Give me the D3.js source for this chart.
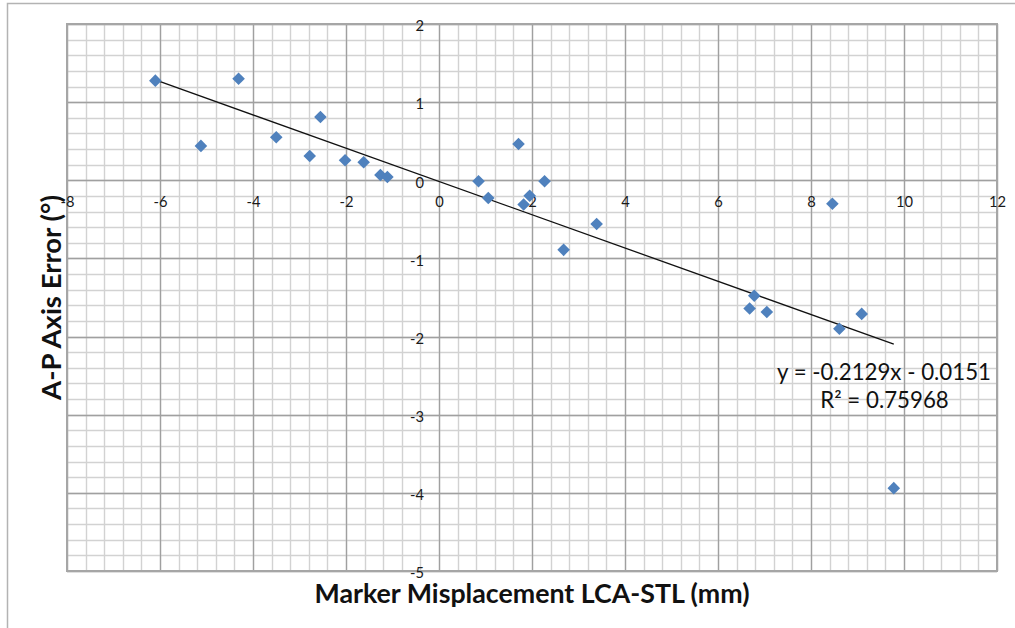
<!DOCTYPE html>
<html>
<head>
<meta charset="utf-8">
<script src="https://cdn.jsdelivr.net/npm/d3@7"></script>
<style>
  html, body { margin: 0; padding: 0; background: #fff; }
  svg { display: block; }
  text { font-family: Lato, "Open Sans", sans-serif; }
</style>
</head>
<body>
<svg id="chart" width="1015" height="628"></svg>
<script>
// ---- data ----
const xValues = [-6.10, -5.12, -4.31, -3.50, -2.78, -2.55, -2.02, -1.62, -1.26, -1.11,
                 0.85, 1.06, 1.71, 1.82, 1.95, 2.27, 2.68, 3.39,
                 6.68, 6.78, 7.05, 8.46, 8.61, 9.09, 9.78];
const yValues = [1.275, 0.44, 1.30, 0.55, 0.31, 0.81, 0.256, 0.23, 0.068, 0.042,
                 -0.013, -0.227, 0.465, -0.31, -0.197, -0.013, -0.89, -0.56,
                 -1.64, -1.477, -1.685, -0.30, -1.90, -1.71, -3.94];
const trendSlope = [-0.2129];
const trendIntercept = [-0.0151];
const xTicks = [-8, -6, -4, -2, 0, 2, 4, 6, 8, 10, 12];
const yTicks = [-5, -4, -3, -2, -1, 0, 1, 2];
const xTitle = "Marker Misplacement LCA-STL (mm)";
const yTitle = "A-P Axis Error (°)";
const eqText = "y = -0.2129x - 0.0151";
const r2Text = "R² = 0.75968";

// ---- layout ----
const svg = d3.select("#chart");
const plot = { left: 67, top: 24, right: 997, bottom: 571 };
const x = d3.scaleLinear().domain([-8, 12]).range([plot.left, plot.right]);
const y = d3.scaleLinear().domain([-5, 2]).range([plot.bottom, plot.top]);

// scale a text's font size so it spans the given width
function fitWidth(sel, width) {
  const fs = +sel.attr("font-size");
  const w = sel.node().getComputedTextLength();
  if (w > 0) sel.attr("font-size", (fs * width / w).toFixed(2));
  return sel;
}

// outer chart border (only left & top visible)
svg.append("path")
  .attr("d", `M7.5,628 L7.5,3.5 L1015,3.5`)
  .attr("fill", "none").attr("stroke", "#b3b3b3").attr("stroke-width", 1.5);

// minor gridlines
const xMinor = d3.range(-8, 12.0001, 0.4).map(v => +v.toFixed(2));
const yMinor = d3.range(-5, 2.0001, 0.2).map(v => +v.toFixed(2));
const g = svg.append("g");
g.selectAll("line.xm").data(xMinor).join("line")
  .attr("x1", d => Math.round(x(d)) + 0.5).attr("x2", d => Math.round(x(d)) + 0.5)
  .attr("y1", plot.top).attr("y2", plot.bottom)
  .attr("stroke", "#d2d2d2").attr("stroke-width", 1.4);
g.selectAll("line.ym").data(yMinor).join("line")
  .attr("y1", d => Math.round(y(d)) + 0.5).attr("y2", d => Math.round(y(d)) + 0.5)
  .attr("x1", plot.left).attr("x2", plot.right)
  .attr("stroke", "#d2d2d2").attr("stroke-width", 1.4);
// major gridlines
g.selectAll("line.xM").data(xTicks).join("line")
  .attr("x1", d => Math.round(x(d)) + 0.5).attr("x2", d => Math.round(x(d)) + 0.5)
  .attr("y1", plot.top).attr("y2", plot.bottom)
  .attr("stroke", "#a0a0a0").attr("stroke-width", 1.3);
g.selectAll("line.yM").data(yTicks).join("line")
  .attr("y1", d => Math.round(y(d)) + 0.5).attr("y2", d => Math.round(y(d)) + 0.5)
  .attr("x1", plot.left).attr("x2", plot.right)
  .attr("stroke", "#a0a0a0").attr("stroke-width", 1.3);

// plot border
svg.append("rect")
  .attr("x", plot.left).attr("y", plot.top)
  .attr("width", plot.right - plot.left).attr("height", plot.bottom - plot.top)
  .attr("fill", "none").attr("stroke", "#a6a6a6").attr("stroke-width", 2);

// axes crossing at zero (labels only, via d3 axes)
const fmt = d => String(d);
const xAxis = d3.axisBottom(x).tickValues(xTicks).tickSize(0).tickPadding(0).tickFormat(fmt);
const yAxis = d3.axisLeft(y).tickValues(yTicks).tickSize(0).tickPadding(15).tickFormat(fmt);
const gx = svg.append("g").attr("transform", `translate(0,${y(0)})`).call(xAxis);
const gy = svg.append("g").attr("transform", `translate(${x(0)},0)`).call(yAxis);
[gx, gy].forEach(a => {
  a.select(".domain").remove();
  a.selectAll("text").attr("font-family", "Lato, sans-serif").attr("font-size", 14.7).attr("fill", "#1a1a1a");
});
gx.selectAll("text").attr("y", 27).attr("dy", 0);
gy.selectAll("text").attr("dy", "0.32em").attr("y", 2);

// trendline
const xMin = d3.min(xValues), xMax = d3.max(xValues);
svg.append("line")
  .attr("x1", x(xMin)).attr("y1", y(trendSlope[0] * xMin + trendIntercept[0]))
  .attr("x2", x(xMax)).attr("y2", y(trendSlope[0] * xMax + trendIntercept[0]))
  .attr("stroke", "#111").attr("stroke-width", 1.3);

// points (diamonds)
const pts = xValues.map((v, i) => ({ x: v, y: yValues[i] }));
svg.append("g").selectAll("path").data(pts).join("path")
  .attr("transform", d => `translate(${x(d.x)},${y(d.y)})`)
  .attr("d", "M0,-6.3 L6.3,0 L0,6.3 L-6.3,0 Z")
  .attr("fill", "#4F81BD");

// equation labels
const eq = svg.append("text").attr("x", 884).attr("y", 380).attr("text-anchor", "middle")
  .attr("font-size", 20).attr("fill", "#111").text(eqText);
fitWidth(eq, 214);
const r2 = svg.append("text").attr("x", 884.5).attr("y", 408).attr("text-anchor", "middle")
  .attr("font-size", eq.attr("font-size")).attr("fill", "#111").text(r2Text);

// axis titles
const xt = svg.append("text").attr("x", 532).attr("y", 603)
  .attr("text-anchor", "middle").attr("font-weight", "bold").attr("font-size", 26)
  .attr("fill", "#111").text(xTitle);
fitWidth(xt, 435);
const yt = svg.append("text").attr("transform", `translate(61,${(plot.top + plot.bottom) / 2}) rotate(-90)`)
  .attr("text-anchor", "middle").attr("font-weight", "bold").attr("font-size", 26)
  .attr("fill", "#111").text(yTitle);
fitWidth(yt, 205);
</script>
</body>
</html>
